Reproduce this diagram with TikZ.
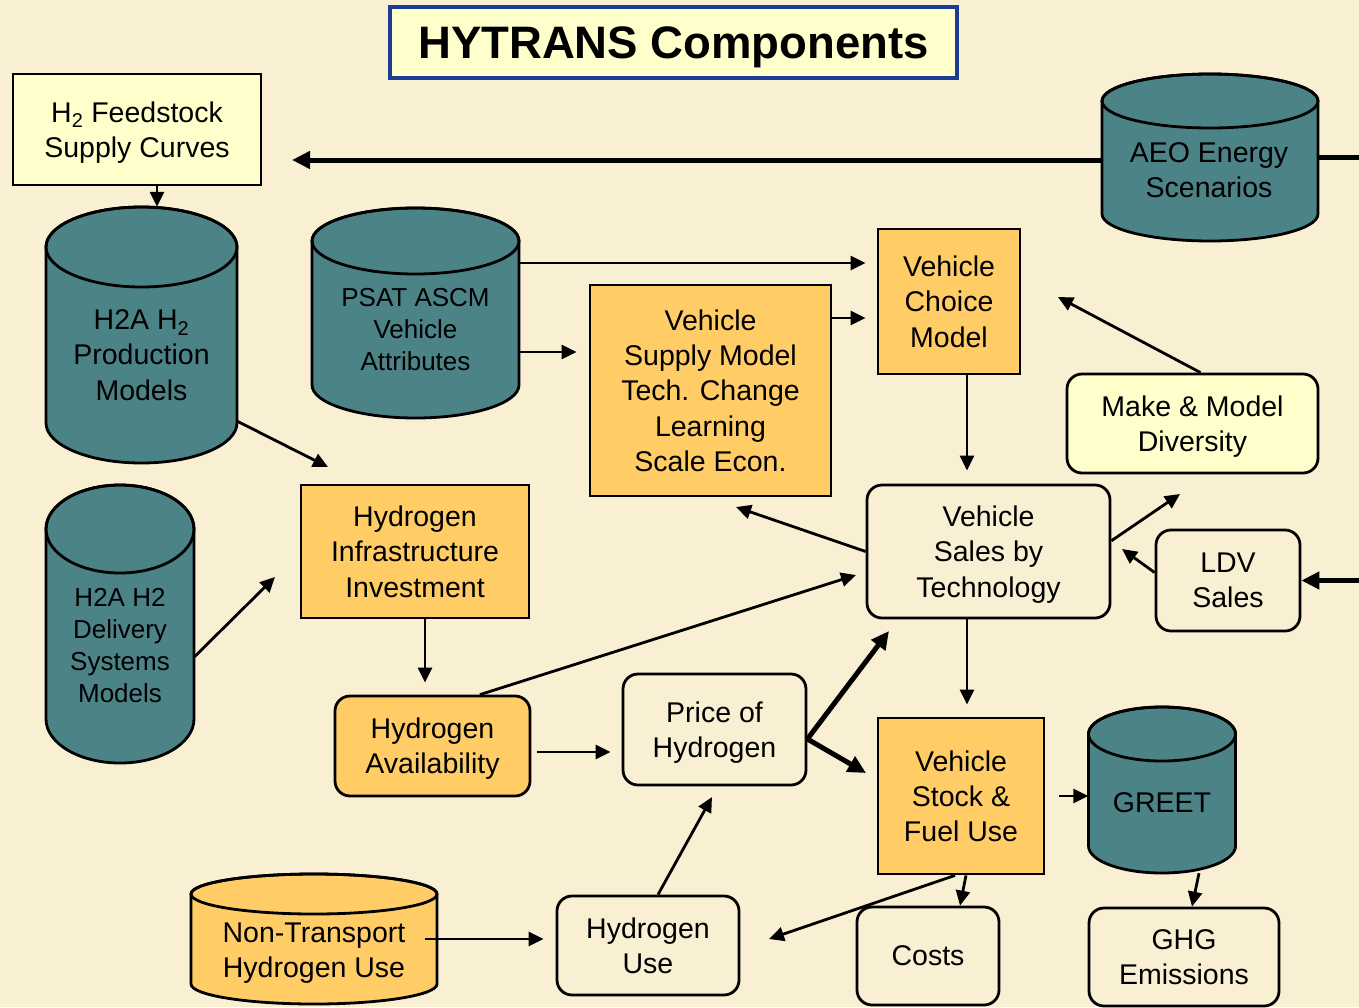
\documentclass[tikz,border=0pt]{standalone}
\usepackage{fontspec}
\setmainfont{Liberation Sans}
\usetikzlibrary{arrows.meta}

\definecolor{hybg}{HTML}{F9EFD3}
\definecolor{hyteal}{HTML}{4B8387}
\definecolor{hyorange}{HTML}{FFCC66}
\definecolor{hyyellow}{HTML}{FFFFCC}
\definecolor{hyblue}{HTML}{1C3C96}

\newcommand{\hytext}{\fontsize{28.5}{35.3}\selectfont}
\newcommand{\hysmall}{\fontsize{26}{32}\selectfont}

% cylinder: name, x centre, top, bottom, half width, rim, fill
\newcommand{\hycyl}[7]{%
  \filldraw[cyl, fill=#7] ({#2-#5},{#4-#6}) arc[start angle=180, end angle=360, x radius=#5pt, y radius=#6pt]
    -- ({#2+#5},{#3+#6}) arc[start angle=0, end angle=180, x radius=#5pt, y radius=#6pt] -- cycle;
  \draw[cyl] (#2,{#3+#6}) ellipse[x radius=#5pt, y radius=#6pt];
  \node[inner sep=0pt, minimum width={2*#5pt}, minimum height={(#4-#3)*1pt}] (#1) at (#2,{(#3+#4)/2}) {};
}

\begin{document}
\begin{tikzpicture}[x=1pt, y=-1pt, >={Triangle[length=15pt,width=14pt]},
    every node/.style={font=\hytext, text depth=0pt},
    box/.style={draw, line width=2.8pt, align=center, inner sep=0pt},
    cyl/.style={draw, line width=2.8pt},
    sharpbox/.style={box, fill=hyorange},
    roundbox/.style={box, rounded corners=15pt, fill=hybg},
    arrow/.style={->, line width=2.8pt},
    bigarrow/.style={->, line width=5pt, >={Triangle[length=18pt,width=17pt]}}]
  \fill[hybg] (0,0) rectangle (1359,1007);
  \useasboundingbox (0,0) rectangle (1359,1007);

  \node[box, draw=hyblue, line width=3.5pt, fill=hyyellow, minimum width=567pt, minimum height=71pt,
        font=\bfseries\fontsize{45.5}{52}\selectfont] (title) at (673.5,42.5) {HYTRANS Components};

  % data sources
  \hycyl{prod}{141.5}{207}{463}{95.5}{40}{hyteal}
  \hycyl{psat}{415.5}{208}{418}{103.5}{33}{hyteal}
  \hycyl{aeo}{1210}{74}{241}{108}{27}{hyteal}
  \hycyl{deliv}{120}{485}{763}{74}{44}{hyteal}
  \hycyl{nontr}{314}{874}{1004}{123}{20}{hyorange}
  \hycyl{greet}{1162}{707}{873}{73.5}{27}{hyteal}

  \node[align=center] (prodlbl) at (141.5,355) {H2A H\textsubscript{2}\\Production\\Models};
  \node[align=center, font=\hysmall] (psatlbl) at (415.5,329) {PSAT ASCM\\Vehicle\\Attributes};
  \node[align=center] (aeolbl) at (1209,170) {AEO Energy\\Scenarios};
  \node[align=center, font=\hysmall] (delivlbl) at (120,645) {H2A H2\\Delivery\\Systems\\Models};
  \node[align=center] (nontrlbl) at (314,950) {Non-Transport\\Hydrogen Use};
  \node (greetlbl) at (1162,803) {GREET};

  % model boxes
  \node[box, fill=hyyellow, minimum width=248pt, minimum height=111pt] (feed) at (137,129.5) {H\textsubscript{2} Feedstock\\Supply Curves};
  \node[sharpbox, minimum width=241pt, minimum height=211pt] (supply) at (710.5,390.5) {Vehicle\\Supply Model\\Tech. Change\\Learning\\Scale Econ.};
  \node[sharpbox, minimum width=142pt, minimum height=145pt] (choice) at (949,301.5) {Vehicle\\Choice\\Model};
  \node[roundbox, fill=hyyellow, minimum width=251pt, minimum height=99pt] (make) at (1192.5,423.5) {Make \& Model\\Diversity};
  \node[roundbox, minimum width=243pt, minimum height=133pt] (sales) at (988.5,551.5) {Vehicle\\Sales by\\Technology};
  \node[roundbox, minimum width=144pt, minimum height=101pt] (ldv) at (1228,580.5) {LDV\\Sales};
  \node[sharpbox, minimum width=228pt, minimum height=133pt] (infra) at (415,551.5) {Hydrogen\\Infrastructure\\Investment};
  \node[roundbox, fill=hyorange, minimum width=195pt, minimum height=100pt] (avail) at (432.5,746) {Hydrogen\\Availability};
  \node[roundbox, minimum width=183pt, minimum height=111pt] (price) at (714.5,729.5) {Price of\\Hydrogen};
  \node[sharpbox, minimum width=166pt, minimum height=156pt] (stock) at (961,796) {Vehicle\\Stock \&\\Fuel Use};
  \node[roundbox, minimum width=182pt, minimum height=99pt] (huse) at (648,945.5) {Hydrogen\\Use};
  \node[roundbox, minimum width=142pt, minimum height=98pt] (costs) at (928,956) {Costs};
  \node[roundbox, minimum width=190pt, minimum height=98pt] (ghg) at (1184,957) {GHG\\Emissions};

  % loose arrow ends
  \coordinate (feed-in) at (292,160);
  \coordinate (aeo-out) at (1359,157.5);
  \coordinate (infra-in) at (328,467);
  \coordinate (infra-in2) at (275,577);
  \coordinate (choice-in) at (1058,297);
  \coordinate (supply-in) at (736,507);
  \coordinate (sales-out) at (1180,494);
  \coordinate (sales-in) at (1122,549);
  \coordinate (sales-in2) at (856,575);
  \coordinate (sales-in3) at (889,631);
  \coordinate (ldv-in) at (1359,580.5);
  \coordinate (stock-in) at (866,773);
  \coordinate (price-in) at (712,797);
  \coordinate (huse-in) at (769,939);

  \path[arrow]
    ([xshift=20pt]feed.south) edge ([xshift=15.5pt]prod.north)
    (prod.-42) edge (infra-in)
    ([yshift=50pt]psat.east) edge[shorten >=11pt] ([yshift=50pt]psat.east -| choice.west)
    ([yshift=-39pt]psat.east) edge[shorten >=12pt] ([yshift=-39pt]psat.east -| supply.west)
    ([yshift=72.5pt]supply.east) edge[shorten >=11pt] ([yshift=72.5pt]supply.east -| choice.west)
    ([xshift=18pt]choice.south) edge[shorten >=13pt] ([xshift=18pt]choice.south |- sales.north)
    ([xshift=8pt]make.north) edge (choice-in)
    (sales.west) edge (supply-in)
    (sales.5) edge (sales-out)
    ([yshift=8pt]ldv.west) edge (sales-in)
    ([xshift=47.5pt]avail.north) edge (sales-in2)
    ([xshift=-21.5pt]sales.south) edge[shorten >=12pt] ([xshift=-21.5pt]sales.south |- stock.north)
    ([yshift=-6pt]avail.east) edge[shorten <=6pt, shorten >=11pt] ([yshift=-6pt]avail.east -| price.west)
    ([xshift=-7.5pt]avail.north |- infra.south) edge[shorten >=12pt] ([xshift=-7.5pt]avail.north)
    (deliv.-24) edge (infra-in2)
    ([xshift=-12pt]nontr.east) edge[shorten >=12pt] (nontr.east -| huse.west)
    ([xshift=10pt]huse.north) edge (price-in)
    ([xshift=14pt]stock.east) edge (stock.east -| greet.west)
    ([xshift=37pt]greet.south) edge ([xshift=8pt]ghg.north)
    ([xshift=5pt]stock.south) edge ([xshift=32pt]costs.north)
    ([xshift=-6pt]stock.south) edge (huse-in);

  \path[bigarrow]
    ([yshift=-2.5pt]aeo.west) edge (feed-in)
    (ldv-in) edge (ldv.east)
    ([yshift=-9.5pt]price.east) edge (sales-in3)
    ([yshift=-9.5pt]price.east) edge (stock-in);
  \draw[line width=5pt] (aeo.east) -- (aeo-out);
\end{tikzpicture}
\end{document}
